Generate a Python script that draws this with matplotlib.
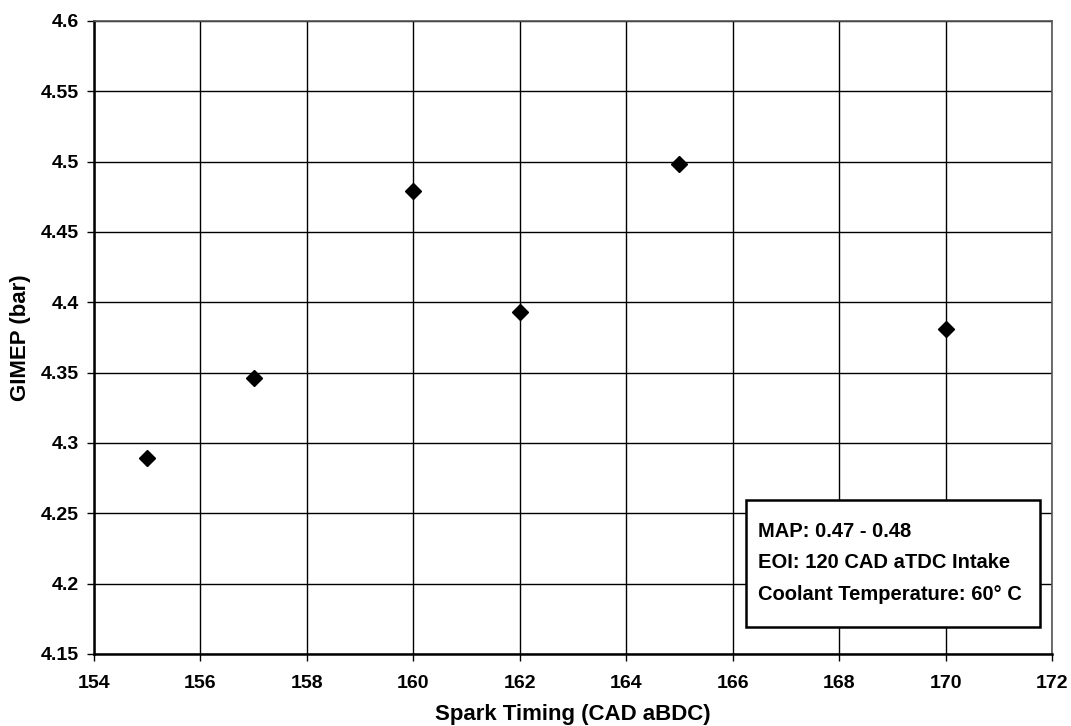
import matplotlib

matplotlib.use("Agg")
import matplotlib.pyplot as plt
from matplotlib.patches import Rectangle

# spark sweep data
spark_timing = [155, 157, 160, 162, 165, 170]
gimep = [4.289, 4.346, 4.479, 4.393, 4.498, 4.381]

x_ticks = [154, 156, 158, 160, 162, 164, 166, 168, 170, 172]
y_ticks = [4.15, 4.2, 4.25, 4.3, 4.35, 4.4, 4.45, 4.5, 4.55, 4.6]
y_tick_labels = ["4.15", "4.2", "4.25", "4.3", "4.35", "4.4", "4.45", "4.5", "4.55", "4.6"]

notes = [
    "MAP: 0.47 - 0.48",
    "EOI: 120 CAD aTDC Intake",
    "Coolant Temperature: 60\u00b0 C",
]

plt.rcParams["font.family"] = ["Liberation Sans", "DejaVu Sans"]
plt.rcParams["font.weight"] = "bold"

fig = plt.figure(figsize=(10.71, 7.26), dpi=100)
ax = fig.add_axes([0.0878, 0.0992, 0.8945, 0.8719])

ax.plot(spark_timing, gimep, linestyle="none", marker="D", markersize=8.5,
        color="black", zorder=5, clip_on=False)

ax.set_xlim(154, 172)
ax.set_ylim(4.15, 4.6)
ax.set_xticks(x_ticks)
ax.set_yticks(y_ticks)
ax.set_yticklabels(y_tick_labels)
ax.tick_params(axis="both", direction="out", length=5, width=1,
               labelsize=14, pad=6)
ax.tick_params(axis="x", pad=10)
for lbl in ax.get_xticklabels() + ax.get_yticklabels():
    lbl.set_fontweight("bold")

ax.grid(True, color="black", linewidth=1.0)
ax.set_axisbelow(True)

for side in ["left", "bottom"]:
    ax.spines[side].set_linewidth(1.8)
    ax.spines[side].set_color("black")
for side in ["top", "right"]:
    ax.spines[side].set_linewidth(1.2)
    ax.spines[side].set_color("#555555")

ax.set_xlabel("Spark Timing (CAD aBDC)", fontsize=16, fontweight="bold", labelpad=9)
ax.set_ylabel("GIMEP (bar)", fontsize=16, fontweight="bold", labelpad=7)

# annotation box with test conditions
box = Rectangle((0.6806, 0.0427), 0.3069, 0.2006, transform=ax.transAxes,
                facecolor="white", edgecolor="black", linewidth=1.8, zorder=6)
ax.add_patch(box)
for yy, txt in zip([0.194, 0.1438, 0.0932], notes):
    ax.text(0.6931, yy, txt, transform=ax.transAxes, fontsize=14.5,
            fontweight="bold", va="center", ha="left", zorder=7)

fig.savefig("out.png", dpi=100)
